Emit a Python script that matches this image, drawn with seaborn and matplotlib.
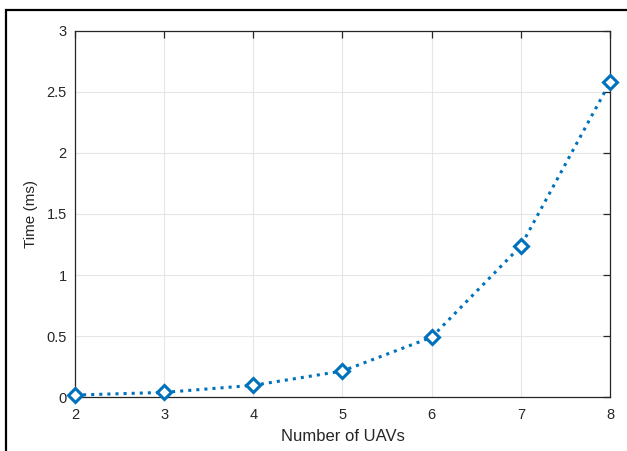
import matplotlib
matplotlib.use("Agg")
import matplotlib.pyplot as plt
from matplotlib.patches import Rectangle
import seaborn as sns
import pandas as pd

num_uavs = [2, 3, 4, 5, 6, 7, 8]
time_ms = [0.016, 0.038, 0.096, 0.213, 0.49, 1.238, 2.58]
x_ticks = [2, 3, 4, 5, 6, 7, 8]
y_ticks = [0, 0.5, 1, 1.5, 2, 2.5, 3]
y_tick_labels = ["0", "0.5", "1", "1.5", "2", "2.5", "3"]

sns.set_style("white")
plt.rcParams["font.family"] = ["Liberation Sans", "DejaVu Sans"]

df = pd.DataFrame({"uavs": num_uavs, "time": time_ms})

fig = plt.figure(figsize=(6.27, 4.51), dpi=100)
ax = fig.add_axes([0.1196, 0.1197, 0.8533, 0.8116])

sns.lineplot(data=df, x="uavs", y="time", ax=ax, color="#0072BD",
             linestyle=":", linewidth=2.2, marker="D", markersize=7.5,
             markerfacecolor="white", markeredgecolor="#0072BD",
             markeredgewidth=2.2, clip_on=False, zorder=5)

ax.set_xlim(2, 8)
ax.set_ylim(0, 3)
ax.set_xticks(x_ticks)
ax.set_yticks(y_ticks)
ax.set_yticklabels(y_tick_labels)
ax.grid(True, color="#e6e6e6", linewidth=0.8)
ax.set_axisbelow(True)
for s in ax.spines.values():
    s.set_visible(True)
    s.set_color("#262626")
    s.set_linewidth(0.9)
ax.tick_params(direction="in", length=5, width=0.9, top=True, right=True,
               labelsize=10.5, colors="#262626")
ax.tick_params(axis="x", pad=8)
ax.tick_params(axis="y", pad=6)
ax.set_xlabel("Number of UAVs", fontsize=12, color="#262626", labelpad=5)
ax.set_ylabel("Time (ms)", fontsize=11, color="#262626", labelpad=6)

# outer frame
fig.patches.append(Rectangle((5.5 / 627, -0.2), 1.2, (451 - 9.5) / 451 + 0.2,
                             transform=fig.transFigure, fill=False,
                             edgecolor="black", linewidth=1.6, zorder=0))

fig.savefig("out.png", dpi=100)
